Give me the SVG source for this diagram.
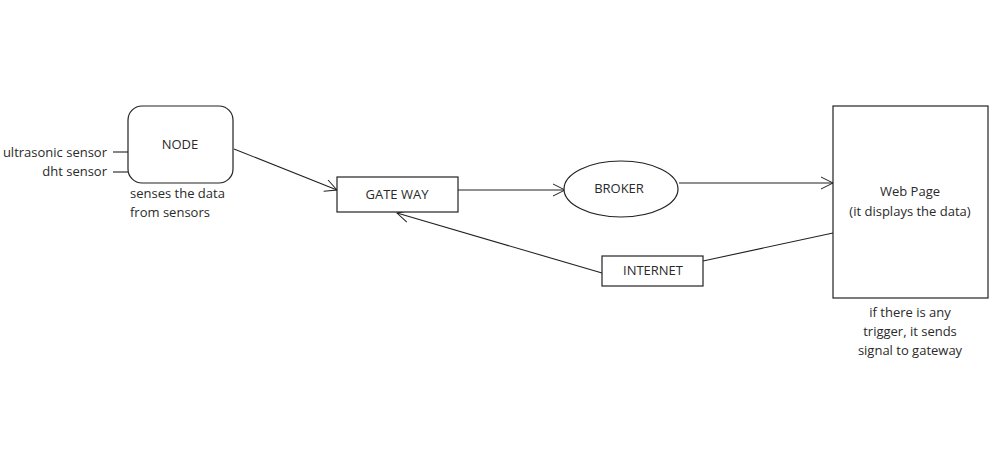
<svg xmlns="http://www.w3.org/2000/svg" width="998" height="449" viewBox="0 0 998 449">
<style>
text{font-family:"Open Sans","Liberation Sans",sans-serif;font-size:13px;fill:#2a2a2a}
.c{text-anchor:middle}
.s{fill:#fff;stroke:#222;stroke-width:1.2}
.l{fill:none;stroke:#222;stroke-width:1.1}
</style>
<defs>
<marker id="a" viewBox="0 0 14 14" refX="13" refY="7" markerWidth="14" markerHeight="14" markerUnits="userSpaceOnUse" orient="auto">
<path d="M1,1 L13,7 L1,13" fill="none" stroke="#222" stroke-width="1"/>
</marker>
</defs>
<rect width="998" height="449" fill="#fff"/>
<g id="connectors">
<line class="l" x1="113" y1="152" x2="128" y2="152"/>
<line class="l" x1="113" y1="172" x2="128" y2="172"/>
<line class="l" x1="234" y1="149" x2="337" y2="190" marker-end="url(#a)"/>
<line class="l" x1="458" y1="190" x2="565" y2="190" marker-end="url(#a)"/>
<line class="l" x1="679" y1="183" x2="833" y2="183" marker-end="url(#a)"/>
<line class="l" x1="833" y1="233" x2="703" y2="261"/>
<line class="l" x1="602" y1="273" x2="397" y2="213" marker-end="url(#a)"/>
</g>
<g id="sensors">
<text x="107" y="157" text-anchor="end">ultrasonic sensor</text>
<text x="107" y="176" text-anchor="end">dht sensor</text>
</g>
<g id="node">
<rect class="s" x="128" y="106" width="105" height="77" rx="14"/>
<text class="c" x="180" y="149">NODE</text>
<text x="130" y="198">senses the data</text>
<text x="130" y="217">from sensors</text>
</g>
<g id="gateway">
<rect class="s" x="337" y="177" width="121" height="35"/>
<text class="c" x="397" y="199">GATE WAY</text>
</g>
<g id="broker">
<ellipse class="s" cx="621" cy="189" rx="57" ry="28"/>
<text class="c" x="619" y="193">BROKER</text>
</g>
<g id="webpage">
<rect class="s" x="833" y="106" width="155" height="192"/>
<text class="c" x="910" y="196">Web Page</text>
<text class="c" x="910" y="216">(it displays the data)</text>
<text class="c" x="910" y="317">if there is any</text>
<text class="c" x="910" y="336">trigger, it sends</text>
<text class="c" x="910" y="355">signal to gateway</text>
</g>
<g id="internet">
<rect class="s" x="602" y="256" width="101" height="30"/>
<text class="c" x="653" y="275">INTERNET</text>
</g>
</svg>
